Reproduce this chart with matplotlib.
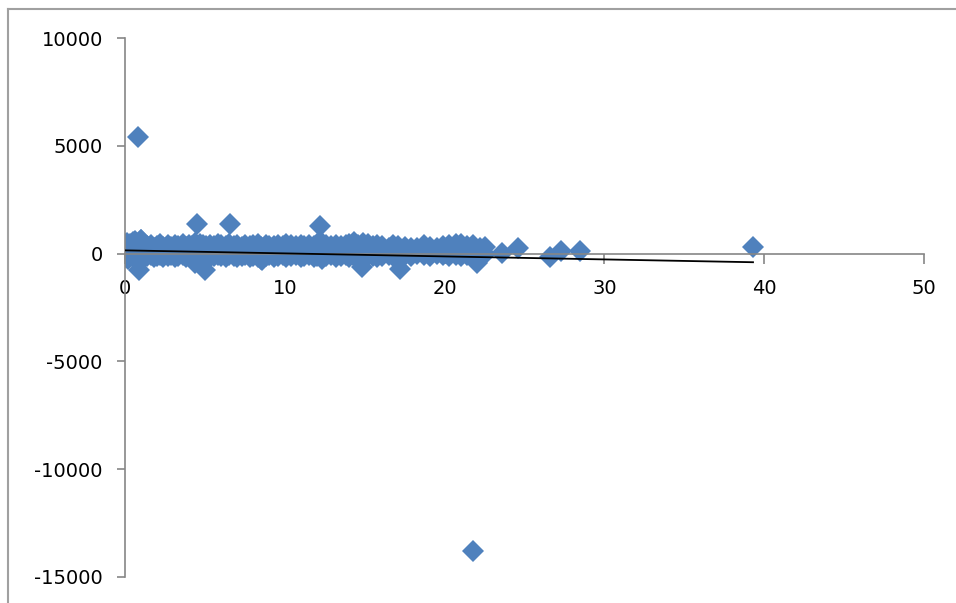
import numpy as np
import matplotlib.pyplot as plt
from matplotlib.lines import Line2D

# Dense band of points near zero (upper and lower edge of the band)
x_cluster = [0.0, 0.1, 0.2, 0.3, 0.5, 0.6, 0.8, 1.0, 1.2, 1.4,
             1.6, 1.8, 2.0, 2.2, 2.4, 2.7, 2.9, 3.1, 3.3, 3.6,
             3.8, 4.0, 4.2, 4.4, 4.7, 4.9, 5.1, 5.3, 5.6, 5.8,
             6.0, 6.3, 6.5, 6.8, 7.0, 7.3, 7.5, 7.8, 8.0, 8.3,
             8.5, 8.8, 9.0, 9.3, 9.6, 9.9, 10.1, 10.4, 10.7, 11.0,
             11.2, 11.5, 11.8, 12.0, 12.3, 12.6, 12.9, 13.2, 13.5, 13.8,
             14.0, 14.3, 14.6, 14.9, 15.2, 15.5, 15.8, 16.1, 16.5, 16.8,
             17.1, 17.5, 17.9, 18.3, 18.7, 19.1, 19.5, 19.9, 20.3, 20.7,
             21.0, 21.4, 21.8, 22.2, 22.5]
y_hi = [430, 500, 380, 460, 530, 600, 460, 640, 410, 330,
        380, 280, 360, 430, 320, 380, 290, 410, 340, 460,
        310, 380, 340, 500, 430, 380, 330, 410, 360, 430,
        380, 340, 460, 330, 380, 310, 410, 330, 380, 430,
        310, 400, 340, 330, 410, 360, 460, 380, 330, 410,
        340, 380, 330, 460, 500, 380, 340, 410, 360, 400,
        430, 530, 380, 500, 430, 360, 380, 330, 280, 410,
        330, 300, 280, 260, 380, 310, 280, 330, 380, 430,
        460, 330, 380, 280, 300]
y_lo = [-180, -130, -230, -80, -180, -130, -280, -80, -180, -130,
        -80, -180, -130, -80, -180, -130, -80, -180, -130, -80,
        -180, -130, -230, -280, -180, -130, -230, -180, -130, -80,
        -130, -180, -80, -130, -180, -130, -80, -180, -130, -180,
        -230, -130, -80, -180, -130, -80, -180, -130, -80, -180,
        -130, -80, -180, -130, -230, -130, -80, -180, -130, -80,
        -180, -130, -230, -180, -80, -130, -180, -130, -80, -130,
        -180, -80, -130, -30, -80, -130, -30, -80, -130, -80,
        -130, -80, -180, -130, -30]

# Outliers and sparse tail
x_extra = [0.8, 4.5, 6.6, 12.2, 0.9, 4.4, 5.0, 8.6, 14.8, 17.2,
           22.0, 1.0, 23.6, 24.6, 26.6, 27.3, 28.5, 21.8, 39.3]
y_extra = [5400, 1350, 1350, 1300, -750, -450, -750, -300, -600, -700,
           -430, 650, 50, 280, -170, 140, 140, -13800, 300]

# Linear trend line as drawn in the chart
trend_intercept = 150
trend_slope = -14

x_all = np.array(x_cluster + x_cluster + x_extra)
y_all = np.array(y_hi + y_lo + y_extra)

plt.rcParams['font.family'] = 'DejaVu Sans'
plt.rcParams['axes.unicode_minus'] = False
fig = plt.figure(figsize=(9.56, 6.03), dpi=100)
ax = fig.add_axes([125 / 956, 1 - 577 / 603, (924 - 125) / 956, (577 - 38) / 603])

ax.plot(x_all, y_all, linestyle='none', marker='D', markersize=11,
        color='#4F81BD', markeredgewidth=0, zorder=2)

tx = np.array([x_all.min(), x_all.max()])
ax.plot(tx, trend_intercept + trend_slope * tx, color='black', lw=1.3, zorder=3)

ax.set_xlim(0, 50)
ax.set_ylim(-15000, 10000)
ax.set_xticks([0, 10, 20, 30, 40, 50])
ax.set_yticks([-15000, -10000, -5000, 0, 5000, 10000])

ax.spines['top'].set_visible(False)
ax.spines['right'].set_visible(False)
ax.spines['bottom'].set_position(('data', 0))
for s in ('left', 'bottom'):
    ax.spines[s].set_color('#868686')
    ax.spines[s].set_linewidth(1.2)

ax.tick_params(axis='x', direction='out', length=7, width=1.2, color='#868686',
               labelsize=14, pad=11)
ax.tick_params(axis='y', direction='out', length=6, width=1.2, color='#868686',
               labelsize=14, pad=10)

# outer chart border (top and left)
fig.add_artist(Line2D([8 / 956, 1], [1 - 9 / 603, 1 - 9 / 603], color='#A0A0A0', lw=1.5))
fig.add_artist(Line2D([8 / 956, 8 / 956], [0, 1 - 9 / 603], color='#A0A0A0', lw=1.5))

fig.savefig('out.png', dpi=100)
